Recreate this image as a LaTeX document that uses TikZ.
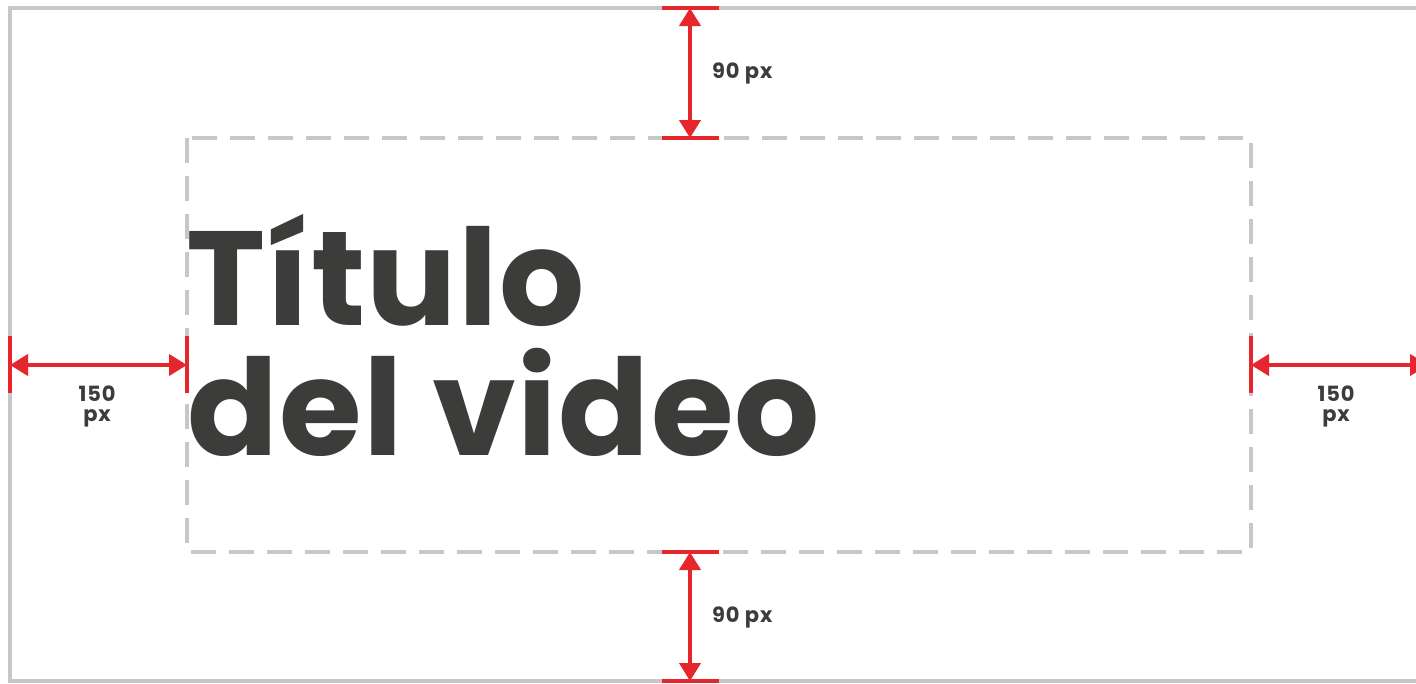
\documentclass[tikz,border=0pt]{standalone}
\usepackage{fontspec}
\setmainfont{Poppins}
\usetikzlibrary{arrows.meta}
\definecolor{framegray}{RGB}{199,199,199}
\definecolor{mred}{RGB}{229,38,44}
\definecolor{tgray}{RGB}{60,60,59}
\begin{document}
\begin{tikzpicture}[x=1pt,y=-1pt,
  frame/.style={draw=framegray, line width=4pt},
  guide/.style={draw=framegray, line width=4.5pt, dash pattern=on 25pt off 13pt},
  bar/.style={draw=mred, line width=4.5pt},
  dim/.style={draw=mred, line width=4pt, {Triangle[length=18pt,width=21pt]}-{Triangle[length=18pt,width=21pt]}},
  lab/.style={text=tgray, font=\bfseries\fontsize{21}{20}\selectfont\addfontfeature{LetterSpace=4}, inner sep=0pt},
  title/.style={text=tgray, font=\bfseries\fontsize{134}{130}\selectfont\addfontfeature{LetterSpace=1}, inner sep=0pt, anchor=base west}]
\useasboundingbox (0,0) rectangle (1416,683);
\clip (0,0) rectangle (1416,683);
\fill[white] (0,0) rectangle (1416,683);
% outer frame and safe area
\draw[frame] (1440,8) -- (10,8) -- (10,681) -- (1440,681);
\draw[guide] (187,138) rectangle (1251,552);
% title
\node[title] (t1) at (186,325) {Título};
\node[title] (t2) at (187,455) {del video};
% bars
\draw[bar] (662,8) -- (719,8);
\draw[bar] (662,138) -- (719,138);
\draw[bar] (662,552) -- (719,552);
\draw[bar] (662,681) -- (719,681);
\draw[bar] (10,336) -- (10,393);
\draw[bar] (187,336) -- (187,393);
\draw[bar] (1251,336) -- (1251,393);
% dimension ends
\coordinate (topA) at (690,8);
\coordinate (topB) at (690,138);
\coordinate (botA) at (690,552);
\coordinate (botB) at (690,681);
\coordinate (leftA) at (10,365);
\coordinate (leftB) at (187,365);
\coordinate (rightA) at (1251,365);
\coordinate (rightB) at (1428,365);
\draw[dim] (topA) -- (topB);
\draw[dim] (botA) -- (botB);
\draw[dim] (leftA) -- (leftB);
\draw[dim] (rightA) -- (rightB);
% labels
\node[lab, anchor=base west] (lt) at (712,78) {90 px};
\node[lab, anchor=base west] (lb) at (712,622) {90 px};
\node[lab, align=center, anchor=north] (ll) at (97,386) {150\\px};
\node[lab, align=center, anchor=north] (lr) at (1336,386) {150\\px};
\end{tikzpicture}
\end{document}
